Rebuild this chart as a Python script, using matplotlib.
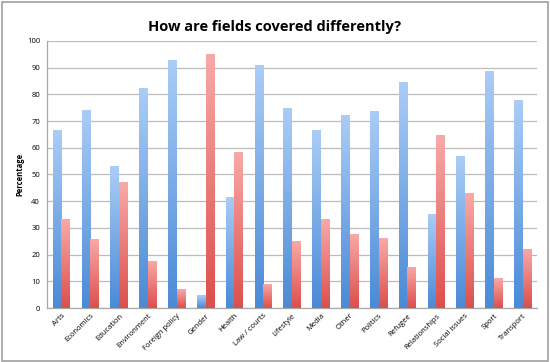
import numpy as np
import matplotlib.pyplot as plt
from matplotlib.colors import LinearSegmentedColormap
from matplotlib.patches import Rectangle

# data
fields = ['Arts', 'Economics', 'Education', 'Environment', 'Foreign policy', 'Gender',
          'Health', 'Law / courts', 'Lifestyle', 'Media', 'Other', 'Politics', 'Refugee',
          'Relationships', 'Social issues', 'Sport', 'Transport']
blue_vals = [66.7, 74.3, 53.0, 82.4, 93.0, 4.8, 41.7, 91.0, 75.0, 66.7, 72.3, 73.8, 84.6,
             35.3, 57.1, 88.9, 77.8]
red_vals = [33.3, 25.7, 47.0, 17.6, 7.0, 95.2, 58.3, 9.0, 25.0, 33.3, 27.7, 26.2, 15.4,
            64.7, 42.9, 11.1, 22.2]

blue_cmap = LinearSegmentedColormap.from_list('b', ['#4a8ad6', '#abcdf7'])
red_cmap = LinearSegmentedColormap.from_list('r', ['#dc4f4c', '#f8aaa8'])

fig = plt.figure(figsize=(5.5, 3.62), dpi=100)
ax = fig.add_axes([0.0855, 0.149, 0.891, 0.738])

x = np.arange(len(fields))
w = 0.30
grad = np.linspace(0, 1, 256).reshape(-1, 1)


def gradient_bars(xs, vals, cmap):
    bars = ax.bar(xs, vals, w, color='none', edgecolor='none', zorder=3)
    for b in bars:
        x0 = b.get_x()
        h = b.get_height()
        im = ax.imshow(grad, cmap=cmap, origin='lower', aspect='auto',
                       extent=[x0, x0 + b.get_width(), 0, max(h, 0.1)],
                       vmin=0, vmax=1, zorder=3)
        im.set_clip_path(b)


gradient_bars(x - w / 2, blue_vals, blue_cmap)
gradient_bars(x + w / 2, red_vals, red_cmap)

ax.set_xlim(-0.5, len(fields) - 0.5)
ax.set_ylim(0, 100)
ax.set_yticks(range(0, 101, 10))
ax.yaxis.grid(True, color='#bcbcbc', linewidth=0.9, zorder=0)
ax.set_axisbelow(True)
ax.set_xticks(x)
ax.set_xticklabels(fields, rotation=45, ha='right', rotation_mode='anchor', fontsize=5.5,
                   family='Open Sans')
ax.tick_params(axis='y', labelsize=5.5, length=0, pad=5)
ax.tick_params(axis='x', length=0, pad=3)
for lbl in ax.get_yticklabels():
    lbl.set_family('Open Sans')
for s in ['top', 'right']:
    ax.spines[s].set_visible(False)
for s in ['left', 'bottom']:
    ax.spines[s].set_color('#a8a8a8')
    ax.spines[s].set_linewidth(0.9)
ax.set_ylabel('Percentage', fontsize=5.5, fontweight='bold', family='Open Sans')
ax.yaxis.set_label_coords(-0.046, 0.5)

fig.text(0.5, 0.925, 'How are fields covered differently?', ha='center', va='center',
         fontsize=10.5, fontweight='bold', family='Open Sans')
fig.patches.append(Rectangle((0.003, 0.004), 0.994, 0.99, transform=fig.transFigure,
                             fill=False, edgecolor='#a0a0a0', linewidth=1.2))

fig.savefig('out.png', dpi=100)
